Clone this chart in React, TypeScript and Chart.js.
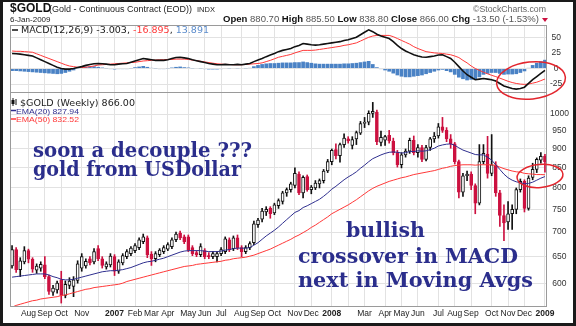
import React, { useEffect, useRef } from 'react';
import { Chart, registerables } from 'chart.js';
Chart.register(...registerables);

// ---- weekly categories (Mon of each week, Jul 10 2006 .. Jan 5 2009) ----
const weekLabels: string[] = Array.from({ length: 131 }, (_, i) =>
  new Date(Date.UTC(2006, 6, 10 + 7 * i)).toISOString().slice(0, 10)
);

// month gridlines (week index) and their labels
const gridWeeks = [4, 8, 12, 17, 21, 25, 30, 34, 38, 43, 47, 51, 56, 60, 64, 69, 73, 78, 82, 86, 91, 95, 99, 104, 108, 112, 117, 121, 125, 130];
const gridLabels = ['Aug', 'Sep', 'Oct', 'Nov', '', '2007', 'Feb', 'Mar', 'Apr', 'May', 'Jun', 'Jul', 'Aug', 'Sep', 'Oct', 'Nov', 'Dec', '2008', '', 'Mar', 'Apr', 'May', 'Jun', 'Jul', 'Aug', 'Sep', 'Oct', 'Nov', 'Dec', '2009'];

const priceTicks = [600, 650, 700, 750, 800, 850, 900, 950, 1000];
const macdTicks = [-25, 0, 25, 50];

// ---- weekly OHLC ----
const open = [
  632, 664, 625, 640, 662, 645, 624, 628, 634, 612,
  584, 588, 606, 578, 596, 594, 605, 628, 632, 646,
  640, 666, 646, 630, 634, 650, 622, 638, 650, 656,
  662, 668, 680, 688, 655, 646, 654, 660, 665, 670,
  684, 698, 690, 690, 668, 658, 654, 662, 652, 650,
  650, 656, 660, 684, 666, 688, 668, 660, 668, 678,
  716, 728, 744, 752, 742, 758, 768, 788, 796, 806,
  834, 788, 828, 796, 800, 810, 818, 842, 866, 898,
  882, 912, 928, 910, 928, 944, 972, 976, 1002, 1006,
  918, 924, 938, 922, 890, 858, 884, 894, 924, 890,
  904, 872, 904, 928, 936, 962, 952, 928, 914, 866,
  790, 830, 834, 806, 764, 866, 886, 836, 858, 788,
  736, 722, 740, 750, 796, 816, 752, 826, 846, 870,
  880.7,
];
const high = [
  672, 668, 648, 670, 665, 648, 636, 640, 650, 615,
  596, 604, 622, 604, 610, 612, 642, 656, 646, 650,
  666, 672, 650, 640, 656, 654, 644, 656, 664, 670,
  676, 688, 696, 692, 660, 660, 666, 672, 678, 688,
  700, 702, 694, 694, 672, 662, 676, 666, 658, 660,
  660, 668, 690, 688, 692, 694, 672, 672, 680, 724,
  730, 752, 756, 756, 764, 774, 792, 800, 814, 850,
  840, 830, 832, 806, 818, 822, 846, 872, 900, 914,
  916, 942, 934, 934, 950, 978, 990, 1010, 1036, 1012,
  950, 938, 952, 930, 896, 890, 900, 930, 936, 912,
  910, 910, 932, 946, 972, 990, 960, 940, 918, 870,
  836, 842, 840, 810, 912, 912, 935, 940, 866, 794,
  760, 768, 760, 800, 822, 820, 830, 862, 876, 890,
  885.5,
];
const low = [
  628, 620, 612, 636, 638, 620, 618, 622, 608, 580,
  578, 582, 565, 574, 590, 576, 600, 622, 628, 634,
  636, 642, 628, 626, 630, 614, 618, 634, 646, 652,
  658, 664, 676, 648, 633, 640, 650, 656, 662, 666,
  680, 684, 676, 660, 652, 650, 650, 646, 646, 646,
  640, 652, 656, 660, 662, 664, 650, 656, 664, 674,
  710, 722, 736, 730, 738, 752, 762, 780, 790, 800,
  784, 776, 792, 786, 796, 800, 812, 838, 858, 873,
  865, 904, 916, 900, 912, 940, 960, 968, 990, 912,
  908, 910, 916, 884, 852, 850, 878, 888, 884, 878,
  866, 868, 896, 918, 930, 946, 920, 902, 860, 776,
  780, 818, 796, 740, 760, 860, 824, 830, 780, 712,
  682, 706, 706, 740, 790, 744, 748, 820, 838, 862,
  838.8,
];
const close = [
  664, 625, 642, 662, 645, 626, 632, 635, 612, 585,
  591, 600, 578, 598, 604, 606, 636, 650, 641, 638,
  660, 646, 633, 636, 651, 622, 640, 652, 660, 667,
  672, 684, 690, 654, 646, 656, 663, 668, 674, 684,
  696, 688, 680, 664, 656, 654, 670, 650, 650, 656,
  656, 664, 686, 664, 688, 668, 660, 668, 676, 718,
  726, 746, 750, 740, 760, 770, 788, 796, 810, 836,
  788, 826, 796, 802, 812, 818, 842, 866, 896, 882,
  912, 930, 922, 926, 946, 972, 976, 1002, 1008, 920,
  932, 934, 922, 890, 858, 884, 894, 924, 890, 904,
  872, 904, 928, 936, 962, 952, 928, 914, 866, 790,
  830, 834, 806, 764, 866, 888, 836, 858, 788, 736,
  720, 740, 750, 796, 816, 752, 824, 846, 872, 880,
  866,
];

// ---- moving averages ----
const ema20 = [
  611, 612, 613, 614, 615, 616, 617, 617, 617, 615,
  612, 610, 607, 606, 606, 607, 609, 611, 613, 615,
  617, 619, 621, 622, 623, 623, 624, 625, 627, 629,
  632, 635, 638, 640, 641, 643, 645, 647, 650, 653,
  656, 659, 661, 662, 662, 662, 662, 661, 660, 660,
  660, 661, 663, 664, 666, 667, 667, 667, 668, 673,
  678, 685, 692, 698, 704, 711, 719, 727, 735, 743,
  747, 754, 758, 763, 768, 773, 780, 788, 797, 804,
  812, 820, 827, 833, 840, 849, 857, 866, 874, 879,
  884, 888, 891, 892, 891, 889, 890, 893, 893, 895,
  894, 895, 898, 902, 908, 911, 913, 914, 910, 903,
  897, 893, 889, 885, 884, 884, 878, 870, 858, 846,
  834, 825, 819, 815, 813, 810, 811, 814, 819, 824,
  827.94,
];
const ema50 = [
  558, 561, 563, 565, 567, 569, 570, 572, 573, 574,
  575, 576, 578, 579, 581, 583, 585, 587, 589, 590,
  592, 593, 594, 595, 596, 597, 598, 600, 603, 605,
  607, 609, 611, 613, 615, 617, 619, 621, 623, 625,
  627, 629, 631, 632, 633, 635, 636, 637, 638, 639,
  640, 641, 643, 644, 646, 647, 648, 649, 651, 653,
  656, 659, 662, 665, 669, 673, 677, 681, 685, 690,
  694, 699, 704, 710, 715, 721, 727, 733, 740, 745,
  750, 755, 760, 766, 772, 779, 786, 793, 799, 804,
  808, 812, 816, 819, 822, 825, 827, 830, 833, 835,
  837, 839, 841, 843, 846, 849, 851, 854, 856, 857,
  858, 858, 858, 857, 858, 858, 858, 858, 856, 852,
  848, 845, 842, 840, 839, 836, 835, 834, 833, 833,
  832.52,
];

// ---- MACD(12,26,9) ----
const macd = [
  24, 23.5, 23, 22, 21, 20, 17, 14, 11, 8,
  5, 2, 0, -1, -1, 0, 1.5, 3, 5, 6.5,
  7.5, 8, 7.5, 7, 6, 6, 7, 7.5, 8, 10,
  12, 14, 16, 15, 14, 13, 13, 13, 14, 16,
  17.5, 18, 17, 16, 14, 12.5, 11, 9.5, 8, 7,
  6, 6, 6.5, 6, 6, 6.5, 6, 7, 8, 11,
  13.5, 16, 19, 21.5, 24, 27, 29, 30.5, 32, 35,
  37, 40, 39, 38, 37.5, 38, 39, 40, 41, 42,
  43, 45, 46, 48, 50, 54, 58, 62, 59, 55,
  52, 50, 48, 43, 37, 32, 28, 25, 22, 20,
  18.5, 18, 19, 20, 21.5, 22, 19, 16, 10, 3,
  -4, -10, -14, -18, -17, -16, -17, -18, -20, -24,
  -28, -30, -32, -33, -32, -30, -24, -18, -13, -8,
  -3.003,
];
const signal = [
  28, 27.5, 27.5, 27, 26.5, 26, 23.5, 21, 18.5, 16,
  13.5, 11, 8.5, 6, 4, 3, 2, 1.5, 2, 3,
  4, 5.5, 6, 6.5, 7, 7.5, 8, 8.5, 9, 9.5,
  10, 11, 12, 12.5, 13, 13.5, 14, 14, 14.5, 14.5,
  15, 15, 15, 14.5, 13.5, 12.5, 11.5, 10.5, 9.5, 8.5,
  7.5, 7, 6.5, 6.5, 6, 6, 6, 6.5, 7, 7.5,
  8, 9, 11, 13, 15.5, 18, 19.5, 21, 22.5, 25,
  27, 29, 29, 29, 29.5, 30.5, 31.5, 32.5, 33.5, 34.5,
  35.5, 37, 38, 39.5, 41, 44, 47, 50, 52, 53,
  53, 53, 53, 51, 48, 45, 42, 39, 35, 32,
  29.5, 27, 26, 25, 24.5, 24, 23, 22, 20, 17.5,
  13, 9, 4, 0, -3, -6, -8.5, -11, -13, -15.5,
  -18, -20.5, -22.5, -24, -25, -25.5, -25, -23.5, -22, -19.5,
  -16.895,
];
const hist = [
  -4, -4, -4.5, -5, -5.5, -6, -6.5, -7, -7.5, -8,
  -8.5, -9, -8.5, -7, -5, -3, -0.5, 1.5, 3, 3.5,
  3.5, 2.5, 1.5, 0.5, -1, -1.5, -1, -1, -1, 0.5,
  2, 3, 4, 2.5, 1, -0.5, -1, -1, -0.5, 1.5,
  2.5, 3, 2, 1.5, 0.5, 0, -0.5, -1, -1.5, -1.5,
  -1.5, -1, 0, -0.5, 0, 0.5, 0, 0.5, 1, 3.5,
  5.5, 7, 8, 8.5, 8.5, 9, 9.5, 9.5, 9.5, 10,
  10, 11, 10, 9, 8, 7.5, 7.5, 7.5, 7.5, 7.5,
  7.5, 8, 8, 8.5, 9, 10, 11, 12, 7, 2,
  -1, -3, -5, -8, -11, -13, -14, -14, -13, -12,
  -11, -9, -7, -5, -3, -2, -4, -6, -10, -14.5,
  -17, -19, -18, -18, -14, -10, -8.5, -7, -7, -8.5,
  -10, -9.5, -9.5, -9, -7, -4.5, 1, 5.5, 9, 11.5,
  13.891,
];

const RED = '#cc1140';
const GRID = '#e2e2e2';
const FRAME = '#9a9a9a';
const NAVY = '#2e2e8e';
const LINE_RED = '#ff3838';

const framePlugin = {
  id: 'frame',
  afterDraw(chart: any) {
    const { ctx, chartArea: a } = chart;
    ctx.save();
    ctx.strokeStyle = FRAME;
    ctx.lineWidth = 1;
    ctx.strokeRect(Math.round(a.left) + 0.5, Math.round(a.top) + 0.5, Math.round(a.right - a.left) - 1, Math.round(a.bottom - a.top));
    ctx.restore();
  },
};

function xScale(showLabels: boolean) {
  return {
    type: 'category',
    offset: true,
    grid: { offset: false, color: GRID, drawTicks: false },
    border: { display: false },
    ticks: {
      display: showLabels,
      autoSkip: false,
      maxRotation: 0,
      padding: 3,
      color: '#222',
      font: (ctx: any) => {
        const k = gridWeeks.indexOf(ctx.tick ? ctx.tick.value : -1);
        const lab = k >= 0 ? gridLabels[k] : '';
        return { family: 'Arial', size: 8.5, weight: /^\d{4}$/.test(lab) ? 'bold' : 'normal' };
      },
      callback: (v: any) => {
        const k = gridWeeks.indexOf(v);
        return k >= 0 ? gridLabels[k] : '';
      },
    },
    afterBuildTicks: (s: any) => {
      s.ticks = gridWeeks.map((v) => ({ value: v }));
    },
    afterFit: (s: any) => {
      s.height = showLabels ? 16 : 0;
    },
  };
}

function yTicksCfg() {
  return {
    color: '#333',
    padding: 3,
    crossAlign: 'center',
    font: { family: 'Arial', size: 8.5 },
    callback: (v: any) => String(v),
  };
}

export default function App() {
  const priceRef = useRef<HTMLCanvasElement>(null);
  const macdRef = useRef<HTMLCanvasElement>(null);

  useEffect(() => {
    document.body.style.margin = '0';
    const down = close.map((c, i) => c < open[i]);
    const bodies = close.map((c, i) => [Math.min(open[i], c), Math.max(open[i], c)]);
    const wicks = close.map((_, i) => [low[i], high[i]]);

    const pc = new Chart(priceRef.current as HTMLCanvasElement, {
      type: 'bar',
      data: {
        labels: weekLabels,
        datasets: [
          { type: 'line', data: ema20, borderColor: NAVY, borderWidth: 1, pointRadius: 0, order: 0 } as any,
          { type: 'line', data: ema50, borderColor: LINE_RED, borderWidth: 1, pointRadius: 0, order: 0 } as any,
          {
            type: 'bar', data: bodies as any, grouped: false, barThickness: 3, borderWidth: 1, borderSkipped: false,
            backgroundColor: down.map((d) => (d ? RED : '#ffffff')),
            borderColor: down.map((d) => (d ? RED : '#111111')), order: 1,
          } as any,
          {
            type: 'bar', data: wicks as any, grouped: false, barThickness: 1, borderWidth: 0,
            backgroundColor: down.map((d) => (d ? RED : '#111111')), order: 2,
          } as any,
        ],
      },
      options: {
        responsive: false,
        animation: false,
        devicePixelRatio: 1,
        layout: { padding: { top: 92, bottom: 4, left: 10, right: 3 } },
        plugins: { legend: { display: false }, tooltip: { enabled: false } },
        scales: {
          x: xScale(true) as any,
          y: {
            type: 'logarithmic', position: 'right', min: 560, max: 1069,
            grid: { color: GRID, drawTicks: false }, border: { display: false },
            ticks: yTicksCfg() as any,
            afterBuildTicks: (s: any) => { s.ticks = priceTicks.map((v) => ({ value: v })); },
            afterFit: (s: any) => { s.width = 26; },
          } as any,
        },
      },
      plugins: [framePlugin],
    });

    const mc = new Chart(macdRef.current as HTMLCanvasElement, {
      type: 'bar',
      data: {
        labels: weekLabels,
        datasets: [
          { type: 'line', data: macd, borderColor: '#111', borderWidth: 1.6, pointRadius: 0, order: 0 } as any,
          { type: 'line', data: signal, borderColor: LINE_RED, borderWidth: 1, pointRadius: 0, order: 0 } as any,
          {
            type: 'bar', data: hist, grouped: false, barPercentage: 0.9, categoryPercentage: 1,
            backgroundColor: '#4a82c5', borderWidth: 0, order: 1,
          } as any,
        ],
      },
      options: {
        responsive: false,
        animation: false,
        devicePixelRatio: 1,
        layout: { padding: { top: 25, bottom: 326 - 92, left: 10, right: 3 } },
        plugins: { legend: { display: false }, tooltip: { enabled: false } },
        scales: {
          x: xScale(false) as any,
          y: {
            type: 'linear', position: 'right', min: -37.7, max: 69.7,
            grid: { color: GRID, drawTicks: false }, border: { display: false },
            ticks: yTicksCfg() as any,
            afterBuildTicks: (s: any) => { s.ticks = macdTicks.map((v) => ({ value: v })); },
            afterFit: (s: any) => { s.width = 26; },
          } as any,
        },
      },
      plugins: [framePlugin],
    });

    return () => {
      pc.destroy();
      mc.destroy();
    };
  }, []);

  const abs: React.CSSProperties = { position: 'absolute', left: 0, top: 0, width: 576, height: 326 };
  const sans = 'Arial, "Liberation Sans", sans-serif';
  const dv = '"DejaVu Sans", sans-serif';
  const serif = '"DejaVu Serif", serif';
  const ann = { fontFamily: serif, fontWeight: 'bold' as const, fontSize: 20, fill: '#2b2e8c', lengthAdjust: 'spacingAndGlyphs' as const };

  return (
    <div style={{ position: 'relative', width: 576, height: 326, background: '#fff', overflow: 'hidden' }}>
      <canvas ref={priceRef} width={576} height={326} style={abs} />
      <canvas ref={macdRef} width={576} height={326} style={abs} />
      <svg width={576} height={326} style={{ ...abs, pointerEvents: 'none' }}>
        {/* header */}
        <text x={10} y={12} fontFamily={sans} fontWeight="bold" fontSize={12} fill="#111">$GOLD</text>
        <text x={49} y={11.5} fontFamily={sans} fontSize={9.2} fill="#222" textLength={143} lengthAdjust="spacingAndGlyphs">(Gold - Continuous Contract (EOD))</text>
        <text x={197} y={11.5} fontFamily={sans} fontSize={7.5} fill="#222">INDX</text>
        <text x={473} y={12} fontFamily={sans} fontSize={8.5} fill="#666" textLength={73} lengthAdjust="spacingAndGlyphs">©StockCharts.com</text>
        <text x={10} y={21.5} fontFamily={sans} fontSize={8} fill="#222">6-Jan-2009</text>
        <text x={223} y={21.5} fontFamily={sans} fontSize={9} fill="#555" textLength={316} lengthAdjust="spacingAndGlyphs">
          <tspan fontWeight="bold" fill="#111">Open</tspan> 880.70 <tspan fontWeight="bold" fill="#111">High</tspan> 885.50 <tspan fontWeight="bold" fill="#111">Low</tspan> 838.80 <tspan fontWeight="bold" fill="#111">Close</tspan> 866.00 <tspan fontWeight="bold" fill="#111">Chg</tspan> -13.50 (-1.53%)
        </text>
        <polygon points="542,18 548,18 545,22" fill={RED} />

        {/* MACD legend */}
        <line x1={12} y1={30} x2={18} y2={30} stroke="#111" strokeWidth={1.5} />
        <text x={21} y={32.5} fontFamily={dv} fontSize={8.5} fill="#222" textLength={188} lengthAdjust="spacingAndGlyphs">
          MACD(12,26,9) -3.003, <tspan fill={LINE_RED}>-16.895</tspan>, <tspan fill="#5b8ccc">13.891</tspan>
        </text>

        {/* price legend */}
        <line x1={13} y1={98} x2={13} y2={106} stroke="#111" strokeWidth={1} />
        <rect x={11.5} y={100} width={3} height={4} fill="#111" />
        <line x1={16} y1={99} x2={16} y2={105} stroke="#111" strokeWidth={1} />
        <text x={20} y={106} fontFamily={dv} fontSize={8.5} fill="#222" textLength={115} lengthAdjust="spacingAndGlyphs">$GOLD (Weekly) 866.00</text>
        <line x1={11} y1={110.5} x2={16} y2={110.5} stroke={NAVY} strokeWidth={1.5} />
        <text x={16} y={113.5} fontFamily={sans} fontSize={8} fill={NAVY} textLength={63} lengthAdjust="spacingAndGlyphs">EMA(20) 827.94</text>
        <line x1={11} y1={119} x2={16} y2={119} stroke={LINE_RED} strokeWidth={1.5} />
        <text x={16} y={122} fontFamily={sans} fontSize={8} fill={LINE_RED} textLength={63} lengthAdjust="spacingAndGlyphs">EMA(50) 832.52</text>

        {/* annotations */}
        <text x={33} y={157} {...ann} textLength={219}>soon a decouple ???</text>
        <text x={33} y={176} {...ann} textLength={208}>gold from USDollar</text>
        <text x={346} y={237} {...ann} textLength={79}>bullish</text>
        <text x={298} y={263} {...ann} textLength={220}>crossover in MACD</text>
        <text x={298} y={287} {...ann} textLength={235}>next in Moving Avgs</text>

        <ellipse cx={531} cy={80.5} rx={34.5} ry={18.5} fill="none" stroke="#e3262e" strokeWidth={1.5} transform="rotate(-6 531 80.5)" />
        <ellipse cx={540} cy={176} rx={23} ry={11.5} fill="none" stroke="#e3262e" strokeWidth={1.5} transform="rotate(-5 540 176)" />
      </svg>
      <div style={{ ...abs, boxSizing: 'border-box', borderStyle: 'solid', borderColor: '#1a1a1a', borderWidth: '2px 3px 3px 3px', pointerEvents: 'none' }} />
    </div>
  );
}
